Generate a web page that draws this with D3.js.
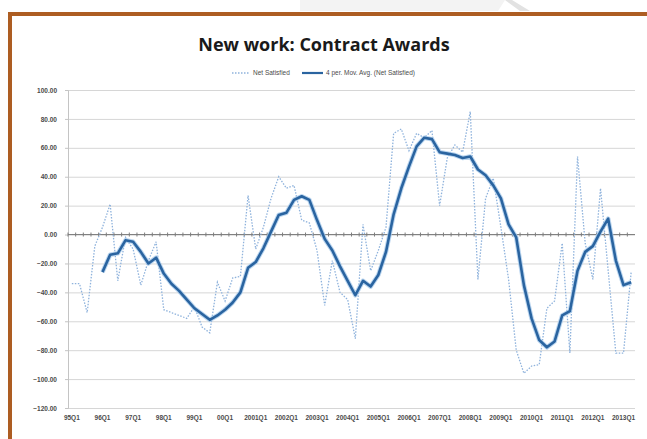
<!DOCTYPE html>
<html>
<head>
<meta charset="utf-8">
<script src="https://cdn.jsdelivr.net/npm/d3@7"></script>
<style>
  html, body { margin: 0; padding: 0; background: #ffffff; }
  svg { display: block; }
</style>
</head>
<body>
<svg id="chart" width="647" height="439"></svg>
<script>
// Quarterly categories, 1995Q1 - 2013Q2
const quarters = [
  "1995Q1","1995Q2","1995Q3","1995Q4","1996Q1","1996Q2","1996Q3","1996Q4",
  "1997Q1","1997Q2","1997Q3","1997Q4","1998Q1","1998Q2","1998Q3","1998Q4",
  "1999Q1","1999Q2","1999Q3","1999Q4","2000Q1","2000Q2","2000Q3","2000Q4",
  "2001Q1","2001Q2","2001Q3","2001Q4","2002Q1","2002Q2","2002Q3","2002Q4",
  "2003Q1","2003Q2","2003Q3","2003Q4","2004Q1","2004Q2","2004Q3","2004Q4",
  "2005Q1","2005Q2","2005Q3","2005Q4","2006Q1","2006Q2","2006Q3","2006Q4",
  "2007Q1","2007Q2","2007Q3","2007Q4","2008Q1","2008Q2","2008Q3","2008Q4",
  "2009Q1","2009Q2","2009Q3","2009Q4","2010Q1","2010Q2","2010Q3","2010Q4",
  "2011Q1","2011Q2","2011Q3","2011Q4","2012Q1","2012Q2","2012Q3","2012Q4",
  "2013Q1","2013Q2"
];

// Net satisfied balance (%)
const netSatisfied = [
  -34, -34, -54, -8, 5, 21, -32, -2, -10, -35,
  -18, -5, -52, -54, -56, -58, -50, -64, -68, -33,
  -46, -30, -29, 27, -10, 5, 25, 40, 32, 34,
  10, 8, -11, -49, -18, -40, -45, -72, 7, -25,
  -11, 5, 70, 73, 58, 70, 67, 72, 20, 53,
  62, 57, 85, -31, 25, 39, 5, -31, -80, -96,
  -91, -90, -51, -46, -6, -82, 54, -6, -31, 32,
  -25, -82, -82, -26
];

// 4-period moving average of the net balance
const movingAvg = [
  null, null, null, null, -26, -14, -13, -4, -5, -12,
  -20, -16, -27, -34, -39, -45, -51, -55, -59, -56,
  -52, -47, -40, -23, -19, -9.5, 2, 13.5, 15, 24,
  26.5, 24, 10, -3, -11, -22, -32, -42, -32, -36,
  -28, -12, 14, 32, 47, 61, 67, 66, 57, 56,
  55, 53, 54, 45, 41, 34, 25, 7, -2, -35,
  -58, -73, -78, -74, -56, -53, -25, -12, -8, 2,
  11, -18, -35, -33
];

// Category axis labels, one every fourth quarter
const xTickLabels = [
  "95Q1","96Q1","97Q1","98Q1","99Q1","00Q1","2001Q1","2002Q1","2003Q1","2004Q1",
  "2005Q1","2006Q1","2007Q1","2008Q1","2009Q1","2010Q1","2011Q1","2012Q1","2013Q1"
];

// Value axis ticks
const yTicks = [100, 80, 60, 40, 20, 0, -20, -40, -60, -80, -100, -120];

const svg = d3.select("#chart");
const W = 647, H = 439;
const labelFont = "Liberation Sans, Arial, sans-serif";

// Slide backdrop
svg.append("rect").attr("x", 0).attr("y", 0).attr("width", W).attr("height", H).attr("fill", "#ffffff");
svg.append("polygon")
  .attr("points", "300,0 505,0 498,11 300,11")
  .attr("fill", "#f3f3f3");
svg.append("polygon")
  .attr("points", "505,0 512,0 530,11 520,11")
  .attr("fill", "#e2e2e2");

// Brown frame around the chart
svg.append("rect")
  .attr("x", 10).attr("y", 14)
  .attr("width", W + 20).attr("height", H + 20)
  .attr("fill", "#ffffff")
  .attr("stroke", "#ad5d22")
  .attr("stroke-width", 4);

const plot = { left: 68, right: 635, top: 90, bottom: 408 };

const x = d3.scaleBand().domain(quarters).range([plot.left, plot.right]).padding(0);
const xc = q => x(q) + x.bandwidth() / 2;
const y = d3.scaleLinear().domain([-120, 100]).range([plot.bottom, plot.top]);

// Horizontal gridlines
svg.append("g")
  .attr("transform", `translate(${plot.left},0)`)
  .call(d3.axisLeft(y).tickValues(yTicks).tickSize(-(plot.right - plot.left)).tickFormat(""))
  .call(g => g.select(".domain").remove())
  .call(g => g.selectAll(".tick line").attr("stroke", "#d6d6d6").attr("stroke-width", 1));

// Value axis with labels
const yAxis = svg.append("g")
  .attr("transform", `translate(${plot.left},0)`)
  .call(d3.axisLeft(y).tickValues(yTicks).tickSize(3).tickPadding(8).tickFormat(d3.format(".2f")));
yAxis.select(".domain").attr("stroke", "#c4c4c4");
yAxis.selectAll(".tick line").attr("stroke", "#c4c4c4");
yAxis.selectAll(".tick text")
  .attr("fill", "#4a4a4a")
  .style("font-family", labelFont)
  .style("font-weight", "bold")
  .style("font-size", "6.5px");

// Category axis crossing at zero, with a tick between every quarter
const zeroY = y(0);
const zeroAxis = svg.append("g");
zeroAxis.append("line")
  .attr("x1", plot.left).attr("x2", plot.right)
  .attr("y1", zeroY).attr("y2", zeroY)
  .attr("stroke", "#7d7d7d").attr("stroke-width", 1);
zeroAxis.selectAll("line.qtick")
  .data(quarters)
  .join("line")
  .attr("class", "qtick")
  .attr("x1", d => x(d)).attr("x2", d => x(d))
  .attr("y1", zeroY - 2).attr("y2", zeroY + 2)
  .attr("stroke", "#7d7d7d").attr("stroke-width", 1);

// Category labels along the bottom
const labelQuarters = quarters.filter((d, i) => i % 4 === 0);
const xAxis = svg.append("g")
  .attr("transform", `translate(0,${plot.bottom})`)
  .call(d3.axisBottom(x).tickValues(labelQuarters).tickSize(0).tickPadding(7)
    .tickFormat((d, i) => xTickLabels[i]));
xAxis.select(".domain").remove();
xAxis.selectAll(".tick text")
  .attr("fill", "#4a4a4a")
  .style("font-family", labelFont)
  .style("font-weight", "bold")
  .style("font-size", "6.5px");

// Net satisfied: dotted light-blue line
const lineNet = d3.line()
  .x((d, i) => xc(quarters[i]))
  .y(d => y(d));
svg.append("path")
  .datum(netSatisfied)
  .attr("d", lineNet)
  .attr("fill", "none")
  .attr("stroke", "#8eb2dc")
  .attr("stroke-width", 1.3)
  .attr("stroke-dasharray", "1.5,1.5");

// Moving average: thick dark-blue line with a soft light edge
const lineAvg = d3.line()
  .defined(d => d !== null)
  .x((d, i) => xc(quarters[i]))
  .y(d => y(d));
svg.append("path")
  .datum(movingAvg)
  .attr("d", lineAvg)
  .attr("fill", "none")
  .attr("stroke", "#a9cbeb")
  .attr("stroke-width", 4.6)
  .attr("stroke-linejoin", "round")
  .attr("stroke-opacity", 0.8);
svg.append("path")
  .datum(movingAvg)
  .attr("d", lineAvg)
  .attr("fill", "none")
  .attr("stroke", "#2a64a0")
  .attr("stroke-width", 2.6)
  .attr("stroke-linejoin", "round");

// Title
svg.append("text")
  .attr("x", 324).attr("y", 51)
  .attr("text-anchor", "middle")
  .attr("fill", "#1a1a1a")
  .style("font-family", "Open Sans, Liberation Sans, sans-serif")
  .style("font-weight", "bold")
  .style("font-size", "18px")
  .text("New work: Contract Awards");

// Legend
const legY = 73;
const legend = svg.append("g")
  .style("font-family", labelFont)
  .style("font-size", "6.5px");
legend.append("line")
  .attr("x1", 232).attr("x2", 250).attr("y1", legY).attr("y2", legY)
  .attr("stroke", "#8eb2dc").attr("stroke-width", 1.3).attr("stroke-dasharray", "1.5,1.5");
legend.append("text")
  .attr("x", 253).attr("y", legY + 2)
  .attr("fill", "#4a4a4a")
  .text("Net Satisfied");
legend.append("line")
  .attr("x1", 302).attr("x2", 323).attr("y1", legY).attr("y2", legY)
  .attr("stroke", "#2a64a0").attr("stroke-width", 2.2);
legend.append("text")
  .attr("x", 326).attr("y", legY + 2)
  .attr("fill", "#4a4a4a")
  .text("4 per. Mov. Avg. (Net Satisfied)");
</script>
</body>
</html>
